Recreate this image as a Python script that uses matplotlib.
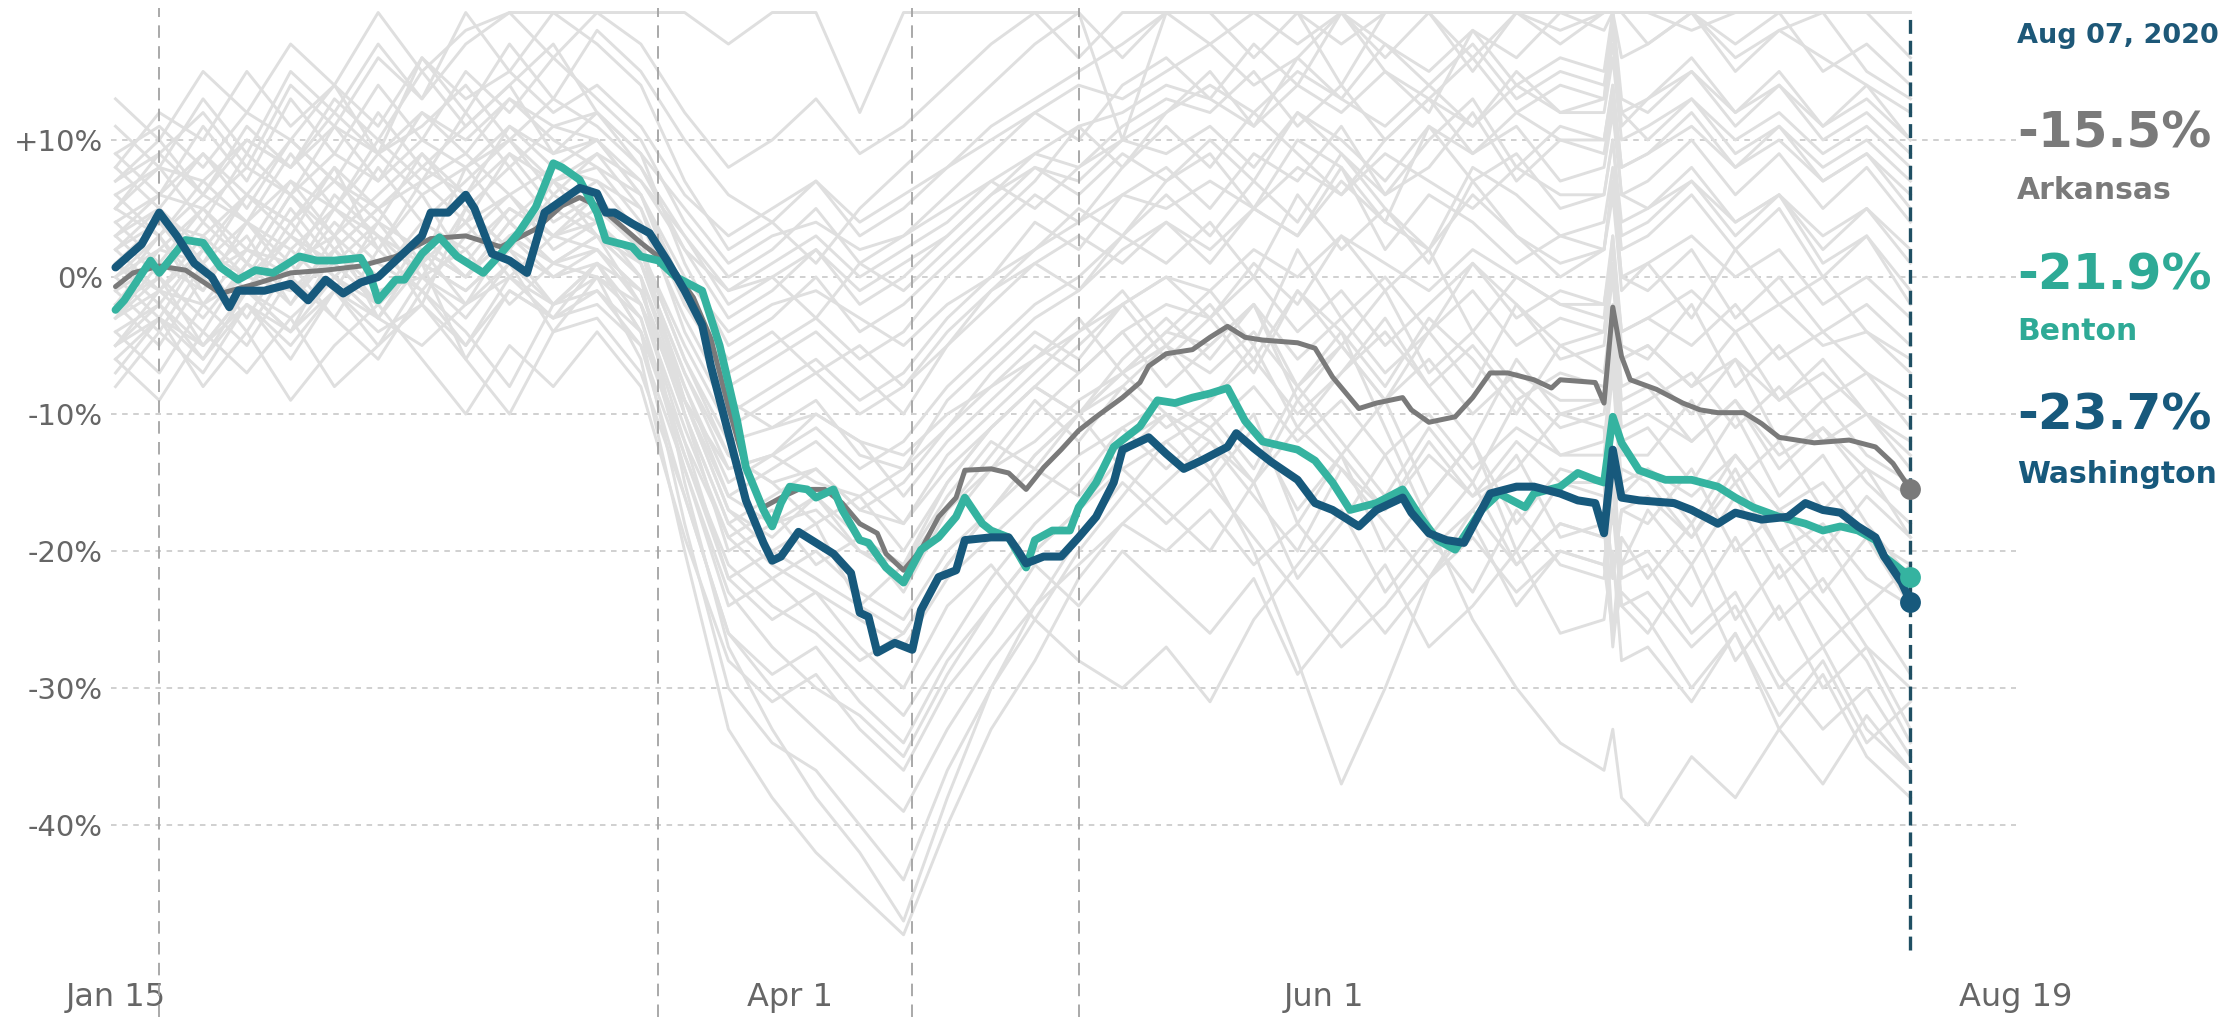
import matplotlib
matplotlib.use("Agg")
import matplotlib.pyplot as plt
import numpy as np

plt.rcParams['lines.scale_dashes'] = False
plt.rcParams['font.family'] = ['DejaVu Sans']

# ---------------- data ----------------
start_date = np.datetime64('2020-01-15')
as_of_label = "Aug 07, 2020"

tick_dates = ['2020-01-15', '2020-04-01', '2020-06-01', '2020-08-19']
tick_labels = ['Jan 15', 'Apr 1', 'Jun 1', 'Aug 19']
y_ticks = [10, 0, -10, -20, -30, -40]
y_tick_labels = ['+10%', '0%', '-10%', '-20%', '-30%', '-40%']
event_dates = ['2020-01-20', '2020-03-17', '2020-04-15', '2020-05-04']
as_of_date = '2020-08-07'

# (days since Jan 15, % change)
arkansas = [(0, -0.7), (2, 0.3), (5, 0.8), (8, 0.5), (12, -1.2), (16, -0.5), (20, 0.3), (24, 0.5),
            (28, 0.8), (32, 1.5), (36, 2.8), (40, 3.0), (44, 2.2), (48, 3.5), (51, 5.2), (53, 5.8),
            (55, 5.2), (56, 4.7), (58, 3.6), (60, 2.5), (62, 1.5), (64, 0.3), (66, -1.5), (68, -4.5),
            (70, -9.5), (72, -14.0), (74, -16.8), (76, -16.1), (78, -15.5), (81, -15.5), (83, -16.5),
            (85, -18.0), (87, -18.7), (88, -20.2), (90, -21.4), (92, -19.9), (94, -17.5), (96, -16.1),
            (97, -14.1), (100, -14.0), (102, -14.3), (104, -15.5), (106, -13.9), (108, -12.6),
            (110, -11.2), (112, -10.2), (115, -8.8), (117, -7.7), (118, -6.5), (120, -5.6),
            (123, -5.3), (125, -4.4), (127, -3.6), (129, -4.4), (131, -4.6), (133, -4.7), (135, -4.8),
            (137, -5.2), (139, -7.3), (142, -9.6), (144, -9.2), (147, -8.8), (148, -9.7), (150, -10.6),
            (153, -10.2), (155, -8.8), (157, -7.0), (159, -7.0), (162, -7.5), (164, -8.1), (165, -7.5),
            (169, -7.7), (170, -9.2), (171, -2.2), (172, -5.8), (173, -7.5), (176, -8.2), (179, -9.2),
            (181, -9.7), (183, -9.9), (186, -9.9), (188, -10.7), (190, -11.7), (194, -12.1),
            (198, -11.9), (201, -12.4), (203, -13.6), (205, -15.5)]

benton = [(0, -2.4), (1, -1.7), (4, 1.2), (5, 0.3), (8, 2.7), (10, 2.5), (12, 0.7), (14, -0.2),
          (16, 0.5), (18, 0.3), (21, 1.5), (23, 1.2), (25, 1.2), (28, 1.4), (29, 0.3), (30, -1.7),
          (32, -0.2), (33, -0.2), (35, 1.7), (37, 2.9), (39, 1.5), (42, 0.3), (44, 1.7), (46, 3.2),
          (48, 5.1), (50, 8.3), (51, 8.0), (53, 7.1), (55, 4.7), (56, 2.7), (59, 2.2), (60, 1.5),
          (62, 1.2), (64, 0.0), (67, -1.0), (68, -3.0), (69, -5.0), (71, -10.5), (72, -13.9),
          (74, -17.0), (75, -18.2), (76, -16.5), (77, -15.3), (79, -15.5), (80, -16.1), (82, -15.5),
          (83, -17.0), (85, -19.2), (86, -19.4), (88, -21.2), (90, -22.3), (92, -19.9), (94, -19.0),
          (96, -17.5), (97, -16.1), (99, -18.0), (100, -18.5), (102, -19.0), (104, -21.2),
          (105, -19.2), (107, -18.5), (109, -18.5), (110, -16.8), (112, -15.0), (114, -12.4),
          (117, -10.9), (119, -9.0), (121, -9.2), (123, -8.8), (125, -8.5), (127, -8.1), (129, -10.5),
          (131, -12.0), (133, -12.3), (135, -12.6), (137, -13.4), (139, -15.0), (141, -17.0),
          (144, -16.5), (147, -15.5), (149, -17.5), (151, -19.2), (153, -19.9), (156, -17.0),
          (158, -15.8), (161, -16.8), (162, -15.8), (165, -15.3), (167, -14.3), (169, -14.8),
          (170, -15.0), (171, -10.2), (172, -12.1), (174, -14.1), (177, -14.8), (180, -14.8),
          (183, -15.3), (185, -16.1), (187, -16.8), (190, -17.5), (193, -18.0), (195, -18.5),
          (197, -18.2), (199, -18.5), (201, -19.2), (202, -20.4), (205, -21.9)]

washington = [(0, 0.7), (3, 2.4), (5, 4.7), (7, 3.0), (9, 1.0), (11, 0.0), (13, -2.2), (14, -1.0),
              (17, -1.0), (20, -0.5), (22, -1.7), (24, -0.2), (26, -1.2), (28, -0.4), (30, 0.0),
              (32, 1.2), (35, 3.0), (36, 4.7), (38, 4.7), (40, 6.0), (41, 5.0), (43, 1.7), (45, 1.2),
              (47, 0.3), (49, 4.7), (51, 5.6), (53, 6.5), (55, 6.1), (56, 4.7), (57, 4.7), (59, 3.9),
              (61, 3.2), (63, 1.2), (65, -1.0), (67, -3.5), (68, -6.5), (70, -11.4), (72, -16.3),
              (74, -19.4), (75, -20.7), (76, -20.4), (78, -18.6), (80, -19.4), (82, -20.2),
              (84, -21.6), (85, -24.5), (86, -24.8), (87, -27.4), (89, -26.7), (91, -27.2),
              (92, -24.3), (94, -21.9), (96, -21.4), (97, -19.2), (100, -19.0), (102, -19.0),
              (103, -19.9), (104, -20.9), (106, -20.4), (108, -20.4), (110, -19.0), (112, -17.5),
              (114, -15.0), (115, -12.6), (118, -11.7), (120, -12.9), (122, -14.0), (124, -13.4),
              (127, -12.4), (128, -11.4), (130, -12.5), (132, -13.5), (135, -14.8), (137, -16.5),
              (139, -17.0), (142, -18.2), (144, -17.0), (147, -16.1), (148, -17.2), (150, -18.7),
              (152, -19.2), (154, -19.4), (156, -17.0), (157, -15.8), (160, -15.3), (162, -15.3),
              (165, -15.8), (167, -16.3), (169, -16.5), (170, -18.7), (171, -12.6), (172, -16.1),
              (174, -16.3), (178, -16.5), (180, -17.0), (183, -18.0), (185, -17.2), (188, -17.7),
              (191, -17.5), (193, -16.5), (195, -17.0), (197, -17.2), (199, -18.2), (201, -19.0),
              (202, -20.4), (204, -22.3), (205, -23.7)]

# other counties (background), sampled on a common day grid
county_days = [0, 5, 10, 15, 20, 25, 30, 35, 40, 45, 50, 55, 60, 65, 70, 75, 80, 85, 90, 95, 100,
               105, 110, 115, 120, 125, 130, 135, 140, 145, 150, 155, 160, 165, 170, 171, 172, 175,
               180, 185, 190, 195, 200, 205]
county_values = [
    [8, 12, 10, 15, 11, 14, 9, 16, 12, 17, 13, 18, 15, 10, 6, 4, 7, 3, 5, 8, 11, 13, 15, 17, 19.3,
     19.3, 19.3, 17, 19.3, 19.3, 19.3, 16, 19.3, 19.3, 19.3, 19.3, 19.3, 19.3, 18, 19.3, 19.3, 15, 17, 14],
    [5, 9, 12, 8, 14, 11, 16, 13, 17, 19.3, 19.3, 19.3, 19.3, 19.3, 17, 19.3, 19.3, 12, 19.3, 19.3,
     19.3, 19.3, 19.3, 10, 19.3, 19.3, 19.3, 19.3, 14, 19.3, 19.3, 19.3, 19.3, 19.3, 19.3, 19.3, 19.3,
     19.3, 19.3, 19.3, 19.3, 19.3, 19.3, 19.3],
    [3, 6, 9, 5, 10, 7, 12, 8, 11, 14, 9, 12, 8, 2, -3, -1, 2, -2, 0, 3, 6, 9, 8, 11, 13, 12, 15, 11,
     14, 10, 13, 16, 12, 14, 13, 17, 12, 10, 13, 9, 11, 8, 10, 7],
    [-2, 2, 5, 1, 6, 3, 8, 4, 7, 10, 6, 9, 5, -4, -10, -8, -6, -9, -7, -3, 0, 4, 2, 6, 8, 5, 9, 7, 11,
     6, 8, 12, 7, 10, 9, 13, 6, 5, 8, 4, 6, 2, 5, 1],
    [0, -3, 2, -1, 4, 0, 3, -2, 5, 2, 6, 4, 0, -8, -15, -13, -11, -14, -12, -8, -5, -2, 0, 3, 1, 4, 0,
     6, 2, 5, 1, 7, 3, 0, 2, 6, -1, 1, -3, 2, -2, 0, -4, -6],
    [-5, -1, -4, 1, -2, 3, -3, 2, 0, 4, 1, 3, -2, -12, -22, -20, -18, -24, -21, -15, -11, -8, -5, -2,
     -6, -3, -7, -1, -5, -9, -4, -8, -2, -6, -5, 0, -8, -7, -10, -6, -12, -9, -13, -15],
    [6, 3, 7, 4, 9, 5, 10, 7, 12, 8, 11, 10, 6, -1, -8, -6, -4, -7, -10, -5, -1, 2, 5, 3, 7, 9, 5, 10,
     8, 4, 11, 7, 9, 5, 6, 10, 3, 4, 7, 3, 6, 1, 3, -1],
    [-8, -4, -7, -2, -6, -1, -5, 0, -3, 1, -2, 0, -6, -20, -33, -38, -42, -45, -48, -40, -33, -28,
     -22, -18, -15, -12, -16, -20, -14, -18, -22, -17, -13, -19, -18, -27, -21, -20, -24, -19, -25,
     -22, -27, -30],
    [2, 5, 1, 6, 3, 8, 2, 7, 4, 9, 5, 7, 3, -10, -18, -16, -14, -17, -15, -11, -7, -4, -6, -2, 0, -3,
     1, -2, 3, -1, 2, -4, 0, -2, -3, 3, -5, -6, -2, -8, -5, -9, -7, -11],
    [-3, 0, -5, -1, -4, 2, -2, 1, -6, -1, -3, 1, -4, -18, -30, -34, -36, -40, -44, -36, -30, -25, -20,
     -16, -12, -10, -14, -8, -12, -16, -11, -15, -9, -13, -12, -6, -15, -14, -18, -13, -17, -20, -16,
     -19],
    [4, 1, 5, 2, 7, 3, 6, 9, 5, 8, 4, 6, 2, -6, -12, -11, -9, -13, -14, -9, -6, -3, -1, 2, 4, 1, 5, 3,
     8, 2, 6, 4, 1, 3, 2, 7, 0, -1, 2, -3, 0, -4, -2, -5],
    [-6, -9, -4, -7, -3, -8, -5, -2, -6, -10, -4, -3, -7, -16, -26, -29, -27, -31, -34, -28, -24, -20,
     -17, -13, -10, -14, -10, -18, -13, -9, -16, -12, -20, -15, -16, -26, -19, -22, -18, -25, -21,
     -27, -24, -29],
    [1, 4, 0, 3, -2, 2, 5, 1, 4, 0, 3, 2, -1, -9, -17, -19, -16, -20, -22, -18, -14, -10, -7, -4, -8,
     -5, -2, -8, -4, -11, -18, -25, -30, -34, -36, -33, -38, -40, -35, -38, -33, -37, -32, -36],
    [-1, 3, -2, 2, 0, 4, 1, -1, 3, 6, 2, 4, 1, -7, -14, -13, -10, -12, -16, -12, -9, -6, -3, -7, -10,
     -14, -20, -28, -37, -30, -22, -18, -24, -20, -21, -26, -23, -25, -30, -26, -32, -28, -34, -31],
    [9, 6, 11, 7, 13, 9, 14, 10, 15, 12, 16, 13, 10, 4, 0, 2, 5, 1, 3, 6, 9, 12, 10, 14, 16, 13, 17,
     14, 19.3, 15, 12, 18, 14, 16, 15, 19.3, 13, 12, 15, 11, 14, 10, 12, 9],
    [-4, -7, -2, -5, 0, -3, -6, -1, -4, -8, -2, -1, -5, -14, -24, -22, -25, -28, -26, -21, -17, -13,
     -10, -14, -17, -20, -15, -22, -18, -13, -19, -23, -17, -21, -22, -17, -24, -26, -21, -28, -24,
     -30, -27, -33],
    [7, 10, 6, 11, 8, 13, 10, 15, 11, 14, 17, 12, 9, 1, -5, -3, 0, -4, -2, 1, 4, 7, 11, 8, 12, 15, 11,
     16, 13, 17, 14, 11, 15, 12, 13, 19.3, 11, 13, 16, 12, 15, 11, 14, 10],
    [-1, -4, 1, -3, 2, -1, 4, 0, -2, 3, 0, 2, -2, -11, -19, -17, -21, -19, -23, -17, -13, -9, -12, -8,
     -5, -9, -5, -11, -7, -3, -8, -12, -6, -10, -9, -5, -12, -11, -15, -10, -16, -13, -18, -22],
    [2, -1, 3, 0, 5, 1, -2, 3, 0, 4, 1, 3, 0, -15, -27, -33, -38, -42, -47, -38, -30, -24, -19, -15,
     -18, -15, -11, -17, -13, -20, -16, -12, -18, -14, -15, -22, -17, -18, -14, -20, -17, -23, -19, -24],
    [11, 8, 13, 9, 15, 12, 17, 13, 19.3, 15, 19.3, 17, 14, 7, 2, 4, 1, 5, 8, 11, 14, 17, 19.3, 16,
     19.3, 19.3, 16, 19.3, 17, 19.3, 19.3, 15, 19.3, 17, 19.3, 19.3, 19.3, 17, 19.3, 16, 18, 19.3, 15, 13],
    [3, 0, 4, 1, 6, 2, 5, 1, 8, 4, 7, 5, 2, -5, -11, -9, -7, -10, -8, -5, -2, 1, -1, 3, 6, 3, 7, 4, 9,
     5, 2, 8, 6, 3, 4, 8, 2, 3, 6, 2, 5, 0, 3, -2],
    [-3, 1, -1, 4, 0, 5, 2, 6, 1, 5, 3, 6, 2, -9, -16, -14, -12, -15, -18, -13, -10, -7, -4, -1, -5,
     -2, -6, -1, -4, -8, -3, -6, -10, -5, -7, -2, -9, -8, -12, -9, -14, -11, -15, -18],
    [-7, -3, -8, -4, -9, -5, -2, -6, -10, -5, -8, -4, -8, -19, -28, -31, -29, -33, -36, -30, -26, -21,
     -24, -20, -23, -26, -22, -29, -25, -21, -27, -24, -20, -26, -25, -20, -28, -27, -31, -26, -33,
     -29, -35, -38],
    [5, 8, 4, 9, 6, 11, 7, 12, 9, 13, 10, 8, 6, -2, -7, -5, -3, -6, -4, 0, 3, 6, 4, 8, 11, 8, 12, 9, 6,
     10, 13, 9, 11, 7, 8, 12, 6, 7, 10, 6, 9, 5, 8, 4],
    [0, 3, -1, 4, 1, 6, 3, 0, 5, 2, 7, 3, 1, -7, -13, -15, -18, -16, -20, -15, -11, -8, -10, -6, -3,
     -6, -2, -9, -5, -1, -7, -4, -8, -11, -10, -5, -13, -13, -9, -15, -12, -17, -14, -19],
    [-5, -2, -6, -1, -4, 0, -3, 2, -2, 1, -4, 0, -3, -13, -22, -25, -23, -27, -30, -24, -21, -25, -28,
     -30, -27, -31, -25, -21, -17, -23, -19, -15, -21, -18, -19, -15, -21, -17, -21, -16, -22, -19,
     -24, -21],
    [8, 5, 9, 6, 10, 7, 4, 9, 6, 11, 8, 10, 7, 3, -2, 0, -3, 1, -1, 2, 5, 8, 6, 9, 7, 10, 7, 12, 9, 6,
     10, 13, 8, 11, 10, 14, 8, 9, 12, 8, 11, 7, 9, 6],
    [-2, -5, 0, -4, 1, -3, 2, -1, -5, 0, -2, 1, -4, -13, -21, -24, -26, -29, -32, -27, -22, -18, -15,
     -11, -14, -11, -15, -9, -13, -17, -12, -16, -14, -10, -11, -18, -14, -15, -19, -14, -20, -24, -28,
     -34],
    [13, 10, 15, 12, 17, 14, 19.3, 15, 18, 19.3, 16, 19.3, 17, 12, 8, 10, 13, 9, 11, 14, 17, 19.3, 16,
     19.3, 19.3, 17, 19.3, 19.3, 19.3, 16, 19.3, 19.3, 19.3, 18, 19.3, 19.3, 19.3, 19.3, 19.3, 17,
     19.3, 19.3, 19.3, 16],
    [1, -2, 2, -1, 3, 0, -3, 1, -1, 2, -2, 1, -1, -10, -20, -18, -16, -19, -21, -16, -12, -14, -10,
     -7, -4, -1, -5, 2, -3, 0, -4, 1, -2, -5, -4, 1, -6, -5, -8, -4, -9, -6, -10, -13],
    [2, 4, 3, 6, 4, 7, 5, 8, 6, 9, 7, 8, 4, -3, -9, -11, -10, -12, -13, -10, -8, -6, -4, -2, 0,
     -1, 2, 0, 3, 1, -1, 2, 0, -2, -2, 2, -4, -3, -1, -4, -2, -5, -4, -7],
    [-1, 1, 0, 2, 1, 3, 0, 4, 2, 5, 3, 4, 1, -8, -16, -18, -17, -20, -21, -17, -14, -12, -9, -7, -5,
     -7, -4, -8, -5, -9, -6, -10, -7, -9, -9, -4, -11, -10, -12, -9, -13, -11, -14, -16],
    [6, 8, 7, 10, 8, 11, 9, 12, 10, 13, 11, 12, 9, 5, 1, 3, 4, 2, 3, 5, 7, 9, 11, 12, 14,
     13, 11, 14, 12, 15, 13, 11, 14, 12, 12, 16, 10, 11, 13, 10, 12, 9, 11, 8],
    [-3, -1, -2, 0, -1, 1, -2, 2, 0, 3, 1, 2, -1, -10, -18, -21, -23, -25, -27, -22, -19, -16, -13,
     -11, -9, -11, -8, -12, -9, -13, -10, -14, -11, -13, -13, -7, -16, -14, -16, -13, -17, -15, -19, -21],
    [4, 6, 5, 8, 6, 9, 7, 10, 8, 11, 9, 10, 6, 0, -4, -2, -1, -3, -5, -2, 0, 2, 4, 6, 5,
     7, 5, 8, 6, 9, 7, 5, 8, 6, 6, 10, 4, 5, 7, 4, 6, 3, 5, 2],
    [0, 2, 1, 4, 2, 5, 3, 1, 4, 6, 3, 5, 2, -6, -13, -15, -14, -17, -18, -14, -11, -8, -10, -7, -4,
     -5, -2, -6, -3, -7, -4, -1, -5, -3, -4, 1, -6, -5, -8, -6, -9, -7, -10, -12],
    [-6, -3, -5, -2, -4, -1, -3, -5, -2, 0, -3, -1, -4, -12, -19, -22, -20, -23, -25, -20, -17, -14,
     -16, -12, -10, -12, -15, -11, -14, -17, -13, -16, -12, -15, -15, -22, -17, -16, -19, -15, -20,
     -18, -22, -24],
    [9, 11, 8, 12, 10, 14, 11, 16, 13, 15, 12, 14, 11, 6, 3, 5, 7, 4, 6, 8, 10, 12, 14, 13, 15,
     17, 14, 16, 19.3, 17, 15, 18, 16, 19.3, 18, 19.3, 16, 17, 19.3, 15, 18, 16, 14, 12],
    [1, -1, 2, 0, 3, 1, 4, 2, 0, 3, 5, 3, 0, -9, -17, -20, -22, -24, -26, -21, -17, -13, -10, -8, -11,
     -9, -6, -10, -7, -4, -8, -5, -9, -7, -8, -3, -10, -9, -7, -11, -8, -12, -10, -14],
    [3, 5, 2, 6, 4, 8, 5, 7, 9, 6, 8, 7, 5, -2, -6, -4, -7, -5, -8, -4, -1, 1, 3, 1, 4,
     2, 5, 3, 7, 4, 2, 6, 3, 1, 2, 7, 0, 1, 3, 0, 2, -2, 0, -3],
    [-4, -2, -5, -1, -3, 0, -2, 1, -1, 2, 0, 1, -3, -14, -23, -27, -30, -32, -35, -29, -24, -20, -17,
     -14, -12, -15, -19, -23, -27, -24, -20, -17, -21, -18, -19, -13, -22, -21, -26, -23, -29, -33,
     -30, -35],
    [5, 3, 6, 4, 7, 5, 9, 6, 8, 10, 7, 9, 7, 2, -1, 1, 3, 0, 2, 4, 7, 5, 8, 10, 9,
     11, 8, 12, 10, 7, 11, 9, 12, 10, 10, 14, 8, 9, 11, 8, 10, 7, 9, 5],
    [-2, 0, -3, 1, -1, 2, -1, 0, 2, -2, 1, 0, -2, -9, -14, -13, -15, -16, -14, -11, -8, -5, -7, -4, -2,
     -3, 0, -4, -1, -5, -2, 1, -3, -1, -2, 3, -4, -3, -5, -2, -6, -4, -7, -9],
    [7, 9, 6, 10, 8, 12, 9, 11, 14, 10, 13, 11, 8, 3, -1, 0, 2, -1, 1, 3, 6, 8, 7, 10, 12,
     14, 12, 15, 13, 11, 14, 17, 13, 15, 14, 18, 12, 13, 15, 12, 14, 11, 13, 10],
    [-5, -3, -6, -2, -5, -1, -4, -2, -5, -1, -3, -2, -5, -16, -26, -30, -33, -36, -39, -33, -28, -24,
     -21, -18, -20, -17, -21, -18, -22, -26, -22, -19, -23, -20, -21, -15, -24, -23, -27, -24, -30,
     -27, -33, -36],
]

# ---------------- style ----------------
c_ark = '#7a7a7a'
c_ben = '#35b3a0'
c_was = '#17597c'
c_bg = '#dfdfdf'
c_tick = '#666666'


def to_dates(days):
    return start_date + np.array(days, dtype='timedelta64[D]')


fig = plt.figure(figsize=(22.4, 10.17), dpi=100)
px_day = 8.756
left_px = 115.5 - 0.5 * px_day
right_px = 115.5 + 217 * px_day
ax = fig.add_axes([left_px / 2240, 0, (right_px - left_px) / 2240, 1009 / 1017])

x0 = start_date - np.timedelta64(12, 'h')
x1 = np.datetime64('2020-08-19T00')
ax.set_xlim(x0, x1)
ax.set_ylim(-54.0, 19.63)

for s in ax.spines.values():
    s.set_visible(False)

# horizontal grid
for yv in y_ticks:
    ax.axhline(yv, color='#d0d0d0', lw=1.4, ls=(0, (4, 4)), zorder=0)

# background counties
gd = to_dates(county_days)
for vals in county_values:
    ax.plot(gd, vals, color=c_bg, lw=2.1, zorder=1, solid_joinstyle='round')

# event reference lines
for ed in event_dates:
    ax.axvline(np.datetime64(ed), color='#a3a3a3', lw=1.3, ls=(0, (9, 6)), zorder=2)

# as-of line
ax.axvline(np.datetime64(as_of_date), ymin=(54.0 - 49.1) / 73.63, ymax=0.995,
           color='#1f4f63', lw=2.4, ls=(0, (10, 5)), zorder=3)

series = [('Arkansas', arkansas, c_ark, 3.6), ('Benton', benton, c_ben, 5.6),
          ('Washington', washington, c_was, 5.8)]
for name, data, col, lw in series:
    d = [p[0] for p in data]
    v = [p[1] for p in data]
    ax.plot(to_dates(d), v, color=col, lw=lw, zorder=5, solid_joinstyle='round',
            solid_capstyle='round')
for name, data, col, lw in [series[0], series[2], series[1]]:
    ax.plot(to_dates([data[-1][0]]), [data[-1][1]], 'o', color=col, ms=15, zorder=6,
            markeredgewidth=0)

# ticks
ax.set_yticks(y_ticks)
ax.set_yticklabels(y_tick_labels)
ax.set_xticks([np.datetime64(t) for t in tick_dates])
ax.set_xticklabels(tick_labels)
ax.tick_params(axis='y', length=0, pad=6, labelsize=21, labelcolor=c_tick)
ax.tick_params(axis='x', length=0, pad=-25, labelsize=23, labelcolor=c_tick)

# right-hand annotation
xt = 2017 / 2240


def fy(py):
    return 1 - py / 1017


fig.text(xt, fy(43), as_of_label, color='#1d5878', fontsize=19.5, fontweight='bold', va='baseline')
label_rows = [(arkansas, 'Arkansas', c_ark, 148, 199), (benton, 'Benton', '#2eaa96', 290, 340),
              (washington, 'Washington', c_was, 430, 483)]
for data, name, col, yb1, yb2 in label_rows:
    fig.text(xt, fy(yb1), f"{data[-1][1]:.1f}%", color=col, fontsize=36, fontweight='bold',
             va='baseline')
    fig.text(xt, fy(yb2), name, color=col, fontsize=21.5, fontweight='bold', va='baseline')

fig.savefig('out.png', dpi=100)
